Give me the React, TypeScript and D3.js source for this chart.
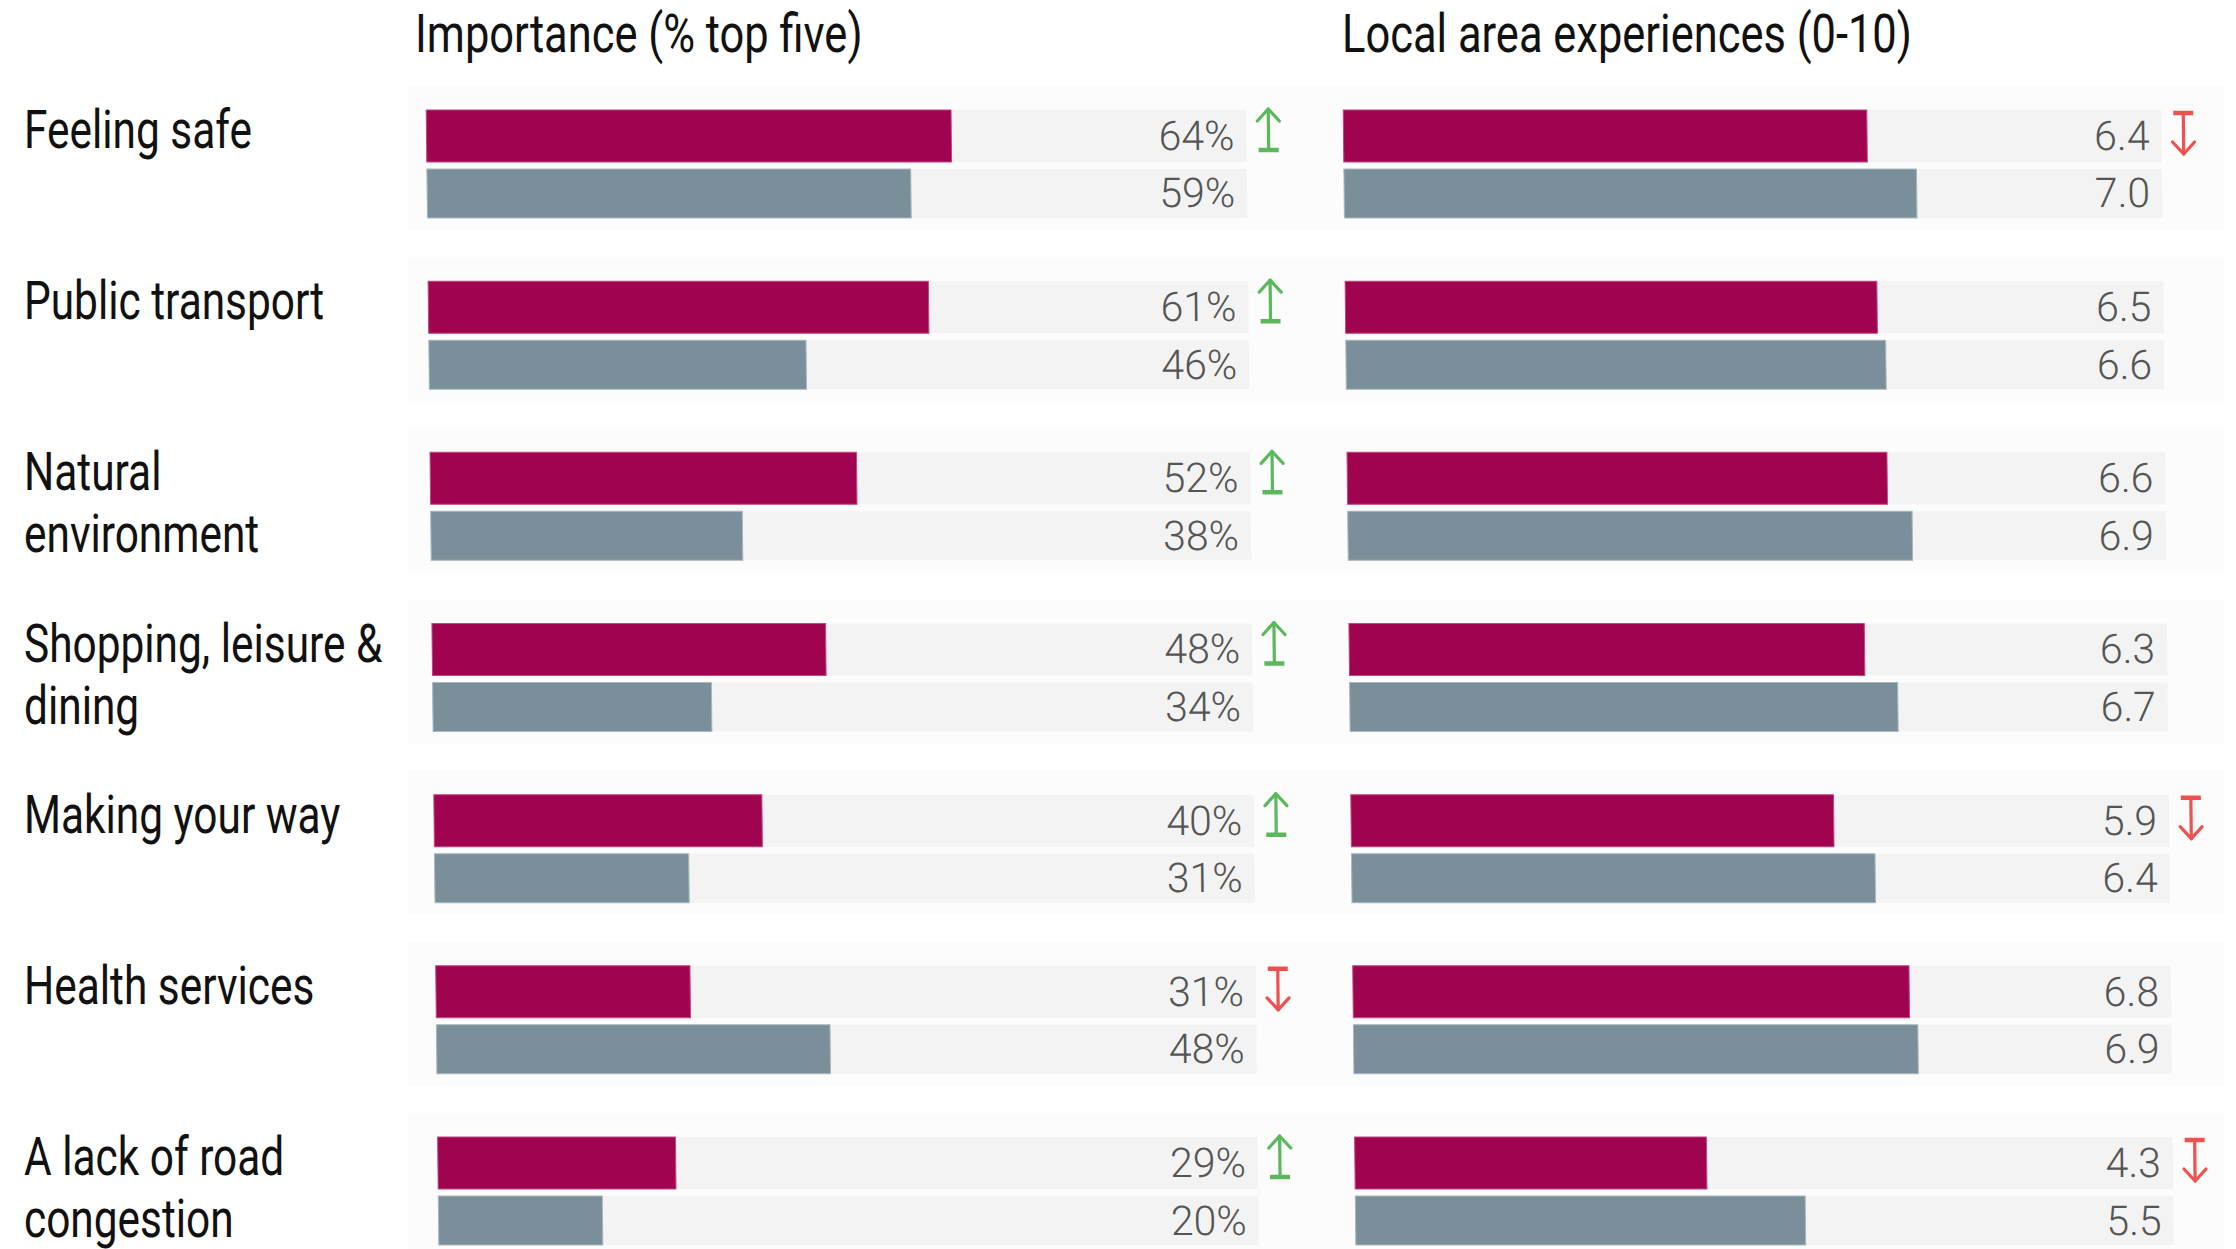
import React from "react";
import * as d3 from "d3";

const categories = [
  "Feeling safe",
  "Public transport",
  "Natural environment",
  "Shopping, leisure & dining",
  "Making your way",
  "Health services",
  "A lack of road congestion",
];
const labelLines = [
  ["Feeling safe"],
  ["Public transport"],
  ["Natural", "environment"],
  ["Shopping, leisure &", "dining"],
  ["Making your way"],
  ["Health services"],
  ["A lack of road", "congestion"],
];
const importanceCurrent = [64, 61, 52, 48, 40, 31, 29];
const importancePrevious = [59, 46, 38, 34, 31, 48, 20];
const importanceChange = ["up", "up", "up", "up", "up", "down", "up"];
const experienceCurrent = [6.4, 6.5, 6.6, 6.3, 5.9, 6.8, 4.3];
const experiencePrevious = [7.0, 6.6, 6.9, 6.7, 6.4, 6.9, 5.5];
const experienceChange = ["down", null, null, null, "down", null, "down"];
const panelTitles = ["Importance (% top five)", "Local area experiences (0-10)"];

const W = 2236;
const H = 1249;
const PINK = "#a0034f";
const SLATE = "#7a8f9a";
const TRACK = "#f3f3f3";
const GREEN = "#5cb85c";
const RED = "#f0504f";
const LABEL_FONT = "Roboto, 'Liberation Sans', sans-serif";
const SX_TITLE = 0.82;
const SX_LABEL = 0.8;
const SKEW = 0.636;

function Arrow({ x, top, dir }: { x: number; top: number; dir: string }) {
  const color = dir === "up" ? GREEN : RED;
  const len = 42;
  if (dir === "up") {
    const y0 = top - 2;
    const y1 = y0 + len;
    return (
      <g stroke={color} fill="none" strokeLinecap="round" strokeLinejoin="round">
        <line x1={x} x2={x} y1={y0 + 1} y2={y1} strokeWidth={3.2} />
        <polyline points={`${x - 11},${y0 + 13} ${x},${y0 + 1} ${x + 11},${y0 + 13}`} strokeWidth={3.2} />
        <line x1={x - 10} x2={x + 10} y1={y1} y2={y1} strokeWidth={4.5} strokeLinecap="butt" />
      </g>
    );
  }
  const y0 = top + 3;
  const y1 = y0 + len;
  return (
    <g stroke={color} fill="none" strokeLinecap="round" strokeLinejoin="round">
      <line x1={x} x2={x} y1={y0} y2={y1 - 1} strokeWidth={3.2} />
      <polyline points={`${x - 11},${y1 - 13} ${x},${y1 - 1} ${x + 11},${y1 - 13}`} strokeWidth={3.2} />
      <line x1={x - 10} x2={x + 10} y1={y0} y2={y0} strokeWidth={4.5} strokeLinecap="butt" />
    </g>
  );
}

export default function App() {
  const y = d3
    .scaleBand<string>()
    .domain(categories)
    .range([110, 110 + 171.17 * categories.length])
    .paddingInner(0)
    .paddingOuter(0);
  const pinkH = 52;
  const grayGap = 7;
  const grayH = 49;

  const panels = [
    {
      title: panelTitles[0],
      x: d3.scaleLinear().domain([0, 100]).range([425, 1245]),
      cur: importanceCurrent,
      prev: importancePrevious,
      change: importanceChange,
      fmt: (v: number) => `${d3.format("d")(v)}%`,
      titleX: 415,
    },
    {
      title: panelTitles[1],
      x: d3.scaleLinear().domain([0, 10]).range([1342, 2160]),
      cur: experienceCurrent,
      prev: experiencePrevious,
      change: experienceChange,
      fmt: (v: number) => d3.format(".1f")(v),
      titleX: 1342,
    },
  ];

  return (
    <svg width={W} height={H} style={{ position: "absolute", left: 0, top: 0, display: "block", background: "#fff" }}>
      {categories.map((c) => (
        <rect key={"bg" + c} x={408} y={(y(c) as number) - 24} width={1816} height={pinkH + grayGap + grayH + 36} fill="#fcfcfc" />
      ))}
      {panels.map((p) => (
        <text
          key={p.title}
          transform={`translate(${p.titleX},52) scale(${SX_TITLE},1)`}
          fontFamily={LABEL_FONT}
          fontWeight={400}
          fontSize={53}
          fill="#111"
        >
          {p.title}
        </text>
      ))}
      {categories.map((c, i) => (
        <g key={"lab" + c}>
          {labelLines[i].map((line, j) => (
            <text
              key={line}
              transform={`translate(24,${(y(c) as number) + 38 + j * 62}) scale(${SX_LABEL},1)`}
              fontFamily={LABEL_FONT}
              fontWeight={400}
              fontSize={53}
              fill="#111"
            >
              {line}
            </text>
          ))}
        </g>
      ))}
      {panels.map((p) => {
        const [x0, x1] = p.x.range();
        return (
          <g key={"panel" + p.title} transform={`skewX(${SKEW})`}>
            {categories.map((c, i) => {
              const top = y(c) as number;
              const gTop = top + pinkH + grayGap;
              return (
                <g key={c}>
                  <rect x={x0} y={top} width={x1 - x0} height={pinkH} fill={TRACK} />
                  <rect x={x0} y={gTop} width={x1 - x0} height={grayH} fill={TRACK} />
                  <rect x={x0} y={top} width={p.x(p.cur[i]) - x0} height={pinkH} fill={PINK} stroke="#c0477f" strokeWidth={1} />
                  <rect x={x0} y={gTop} width={p.x(p.prev[i]) - x0} height={grayH} fill={SLATE} stroke="#a9b8bf" strokeWidth={1} />
                  <text
                    x={x1 - 12}
                    y={top + pinkH / 2}
                    textAnchor="end"
                    dominantBaseline="central"
                    fontFamily="Roboto, sans-serif"
                    fontWeight={300}
                    fontSize={41}
                    fill="#555"
                  >
                    {p.fmt(p.cur[i])}
                  </text>
                  <text
                    x={x1 - 12}
                    y={gTop + grayH / 2}
                    textAnchor="end"
                    dominantBaseline="central"
                    fontFamily="Roboto, sans-serif"
                    fontWeight={300}
                    fontSize={41}
                    fill="#555"
                  >
                    {p.fmt(p.prev[i])}
                  </text>
                  {p.change[i] ? <Arrow x={x1 + 22} top={top} dir={p.change[i] as string} /> : null}
                </g>
              );
            })}
          </g>
        );
      })}
    </svg>
  );
}
